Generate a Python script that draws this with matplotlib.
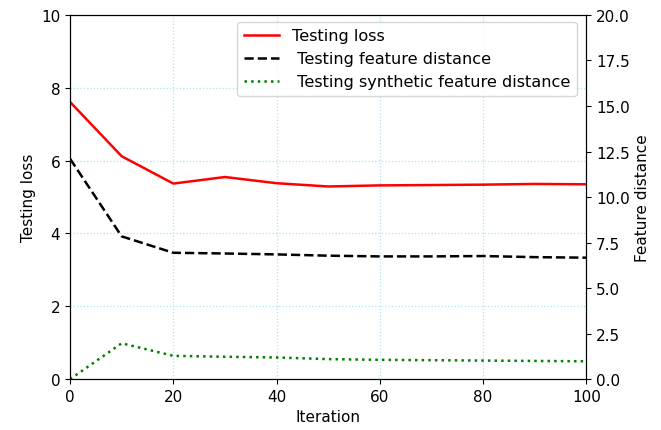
import numpy as np
import matplotlib
matplotlib.use('Agg')
import matplotlib.pyplot as plt

# dados
iteracoes = [0, 10, 20, 30, 40, 50, 60, 70, 80, 90, 100]
testing_loss = [7.61, 6.12, 5.37, 5.55, 5.38, 5.29, 5.32, 5.33, 5.34, 5.36, 5.35]
feature_dist = [12.1, 7.84, 6.94, 6.9, 6.85, 6.78, 6.74, 6.74, 6.76, 6.7, 6.67]
synth_dist = [0.0, 1.97, 1.28, 1.23, 1.19, 1.1, 1.06, 1.04, 1.02, 1.0, 0.98]

fig, ax = plt.subplots(figsize=(6.61, 4.31), dpi=100)
ax2 = ax.twinx()

l1, = ax.plot(iteracoes, testing_loss, color='red', linewidth=1.8, label='Testing loss')
l2, = ax2.plot(iteracoes, feature_dist, color='black', linestyle='--', linewidth=1.8,
               label=' Testing feature distance')
l3, = ax2.plot(iteracoes, synth_dist, color='green', linestyle=':', linewidth=1.8,
               label=' Testing synthetic feature distance')

ax.set_xlim(0, 100)
ax.set_ylim(0, 10)
ax2.set_ylim(0, 20)
ax.grid(True, color='#a6e8ec', linestyle=':', linewidth=0.9)

ax.set_xlabel('Iteration', fontsize=11)
ax.set_ylabel('Testing loss', fontsize=11)
ax2.set_ylabel('Feature distance', fontsize=11)
ax.tick_params(labelsize=11)
ax2.tick_params(labelsize=11)

ax.legend(handles=[l1, l2, l3], loc='upper right', bbox_to_anchor=(0.997, 1.003),
          fontsize=11.6, handlelength=2.2)

plt.subplots_adjust(left=0.106, right=0.887, top=0.963, bottom=0.118)
plt.savefig('out.png', dpi=100, facecolor='white')
